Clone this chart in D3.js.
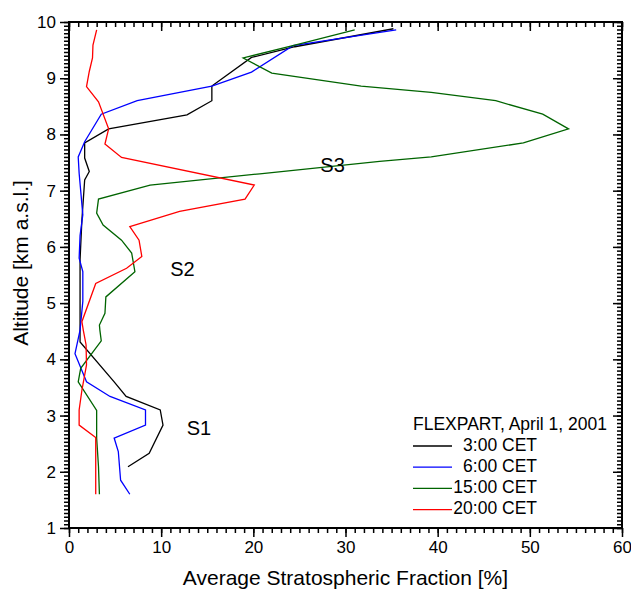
<!DOCTYPE html>
<html>
<head>
<meta charset="utf-8">
<script src="https://cdn.jsdelivr.net/npm/d3@7"></script>
<style>
  body { margin: 0; background: #fff; }
  svg { font-family: Arial, "Liberation Sans", sans-serif; }
</style>
</head>
<body>
<svg width="631" height="590"></svg>
<script>
// [fraction %, altitude km]
var series3 = [[6.4,2.09],[8.7,2.33],[10.2,2.83],[9.9,3.1],[6.2,3.34],[4.9,3.6],[1.2,4.31],[1.2,5.06],[1.2,5.77],
  [1.4,6.48],[1.7,7.19],[2.2,7.34],[1.7,7.58],[1.7,7.85],[4.3,8.1],[12.8,8.35],[15.5,8.6],[15.5,8.86],
  [19.8,9.37],[24.5,9.56],[35.2,9.88]];
var series6 = [[6.6,1.6],[5.6,1.85],[5.35,2.36],[4.9,2.6],[8.3,2.83],[8.3,3.1],[4.45,3.34],[1.9,3.6],[0.65,4.1],
  [1.2,4.52],[1.5,5.03],[1.5,5.56],[1.1,5.8],[1.2,6.2],[1.5,6.57],[1.1,7.31],[1.0,7.6],[1.7,7.87],[3.5,8.36],
  [7.4,8.6],[15.5,8.86],[19.8,9.11],[24.3,9.58],[35.5,9.86]];
var series15 = [[3.3,1.6],[3.2,2.09],[3.0,2.6],[3.0,3.09],[1.0,3.6],[1.27,3.84],[3.5,4.33],[3.35,4.52],[3.3,4.61],
  [3.9,4.82],[4.0,5.11],[7.15,5.56],[6.8,5.89],[5.7,6.12],[3.7,6.39],[3.0,6.6],[3.2,6.85],[8.8,7.1],[20.7,7.3],
  [33.7,7.52],[39.3,7.6],[49.3,7.85],[54.2,8.1],[51.4,8.36],[46.3,8.6],[39.3,8.75],[31.7,8.86],[22.0,9.09],
  [18.9,9.36],[24.5,9.59],[31.0,9.86]];
var series20 = [[2.9,1.6],[2.9,2.61],[1.1,2.83],[1.1,3.1],[1.4,3.45],[1.9,3.9],[1.85,4.26],[1.55,4.52],[1.4,4.67],
  [2.9,5.35],[6.25,5.62],[7.9,5.83],[7.6,6.12],[6.6,6.36],[12.0,6.63],[19.1,6.85],[20.1,7.1],[5.7,7.59],
  [3.9,7.83],[4.3,8.1],[3.2,8.58],[1.9,8.85],[2.2,9.12],[2.55,9.36],[2.6,9.59],[3.0,9.86]];

var legendNames = [" 3:00 CET", " 6:00 CET", "15:00 CET", "20:00 CET"];
var colors = ["#000000", "#0000ff", "#006400", "#ff0000"];
var xTicks = [0, 10, 20, 30, 40, 50, 60];
var yTicks = [1, 2, 3, 4, 5, 6, 7, 8, 9, 10];
var regions = [["S1", 14.1, 2.74], ["S2", 12.3, 5.58], ["S3", 28.6, 7.43]];

var svg = d3.select("svg");
var margin = {left: 69, top: 22};
var width = 553;
var height = 506;

var xScale = d3.scaleLinear().domain([0, 60]).range([0, width]);
var yScale = d3.scaleLinear().domain([1, 10]).range([height, 0]);

var g = svg.append("g").attr("transform", "translate(" + margin.left + "," + margin.top + ")");

var xMinor = d3.range(0, 61, 1);
var yMinor = d3.range(0, 136).map(d => 1 + d / 15);

function styleAxis(sel) {
  sel.selectAll(".domain").remove();
  sel.selectAll("line").attr("stroke", "#000").attr("stroke-width", 1.5);
  sel.selectAll("text").attr("font-size", 17).attr("fill", "#000");
}

// bottom
g.append("g").attr("transform", "translate(0," + height + ")")
  .call(d3.axisBottom(xScale).tickValues(xMinor).tickSize(5).tickFormat("")).call(styleAxis);
g.append("g").attr("transform", "translate(0," + height + ")")
  .call(d3.axisBottom(xScale).tickValues(xTicks).tickSize(9).tickPadding(4).tickFormat(d3.format("d"))).call(styleAxis);
// top (inward)
g.append("g")
  .call(d3.axisBottom(xScale).tickValues(xMinor).tickSize(5).tickFormat("")).call(styleAxis);
g.append("g")
  .call(d3.axisBottom(xScale).tickValues(xTicks).tickSize(9).tickFormat("")).call(styleAxis);
// left
g.append("g")
  .call(d3.axisLeft(yScale).tickValues(yMinor).tickSize(5).tickFormat("")).call(styleAxis);
g.append("g")
  .call(d3.axisLeft(yScale).tickValues(yTicks).tickSize(9).tickPadding(4).tickFormat(d3.format("d"))).call(styleAxis);
// right (inward)
g.append("g").attr("transform", "translate(" + width + ",0)")
  .call(d3.axisLeft(yScale).tickValues(yMinor).tickSize(5).tickFormat("")).call(styleAxis);
g.append("g").attr("transform", "translate(" + width + ",0)")
  .call(d3.axisLeft(yScale).tickValues(yTicks).tickSize(9).tickFormat("")).call(styleAxis);

g.append("rect").attr("width", width).attr("height", height)
  .attr("fill", "none").attr("stroke", "#000").attr("stroke-width", 2);

var line = d3.line().x(d => xScale(d[0])).y(d => yScale(d[1]));
var allSeries = [series3, series6, series15, series20];

g.selectAll("path.series").data(allSeries).enter().append("path")
  .attr("class", "series")
  .attr("d", line)
  .attr("fill", "none")
  .attr("stroke", (d, i) => colors[i])
  .attr("stroke-width", 1.3);

g.selectAll("text.region").data(regions).enter().append("text")
  .attr("class", "region")
  .attr("x", d => xScale(d[1]))
  .attr("y", d => yScale(d[2]))
  .attr("text-anchor", "middle")
  .attr("dominant-baseline", "middle")
  .attr("font-size", 20)
  .text(d => d[0]);

// legend
var leg = g.append("g").attr("transform", "translate(" + (413 - margin.left) + "," + (425 - margin.top) + ")");
leg.append("text").attr("x", 0).attr("y", 0).attr("dominant-baseline", "middle")
  .attr("font-size", 17.5).text("FLEXPART, April 1, 2001");
legendNames.forEach(function (name, i) {
  var yy = 21 + i * 21.2;
  leg.append("line").attr("x1", 0).attr("x2", 39).attr("y1", yy).attr("y2", yy)
    .attr("stroke", colors[i]).attr("stroke-width", 1.3);
  leg.append("text").attr("x", 124).attr("y", yy).attr("dominant-baseline", "middle")
    .attr("text-anchor", "end").attr("font-size", 17.5).attr("xml:space", "preserve").text(name);
});

svg.append("text")
  .attr("x", margin.left + width / 2).attr("y", 585)
  .attr("text-anchor", "middle").attr("font-size", 21)
  .text("Average Stratospheric Fraction [%]");

svg.append("text")
  .attr("transform", "translate(28," + (margin.top + height / 2 - 12) + ") rotate(-90)")
  .attr("text-anchor", "middle").attr("font-size", 21)
  .text("Altitude [km a.s.l.]");
</script>
</body>
</html>
